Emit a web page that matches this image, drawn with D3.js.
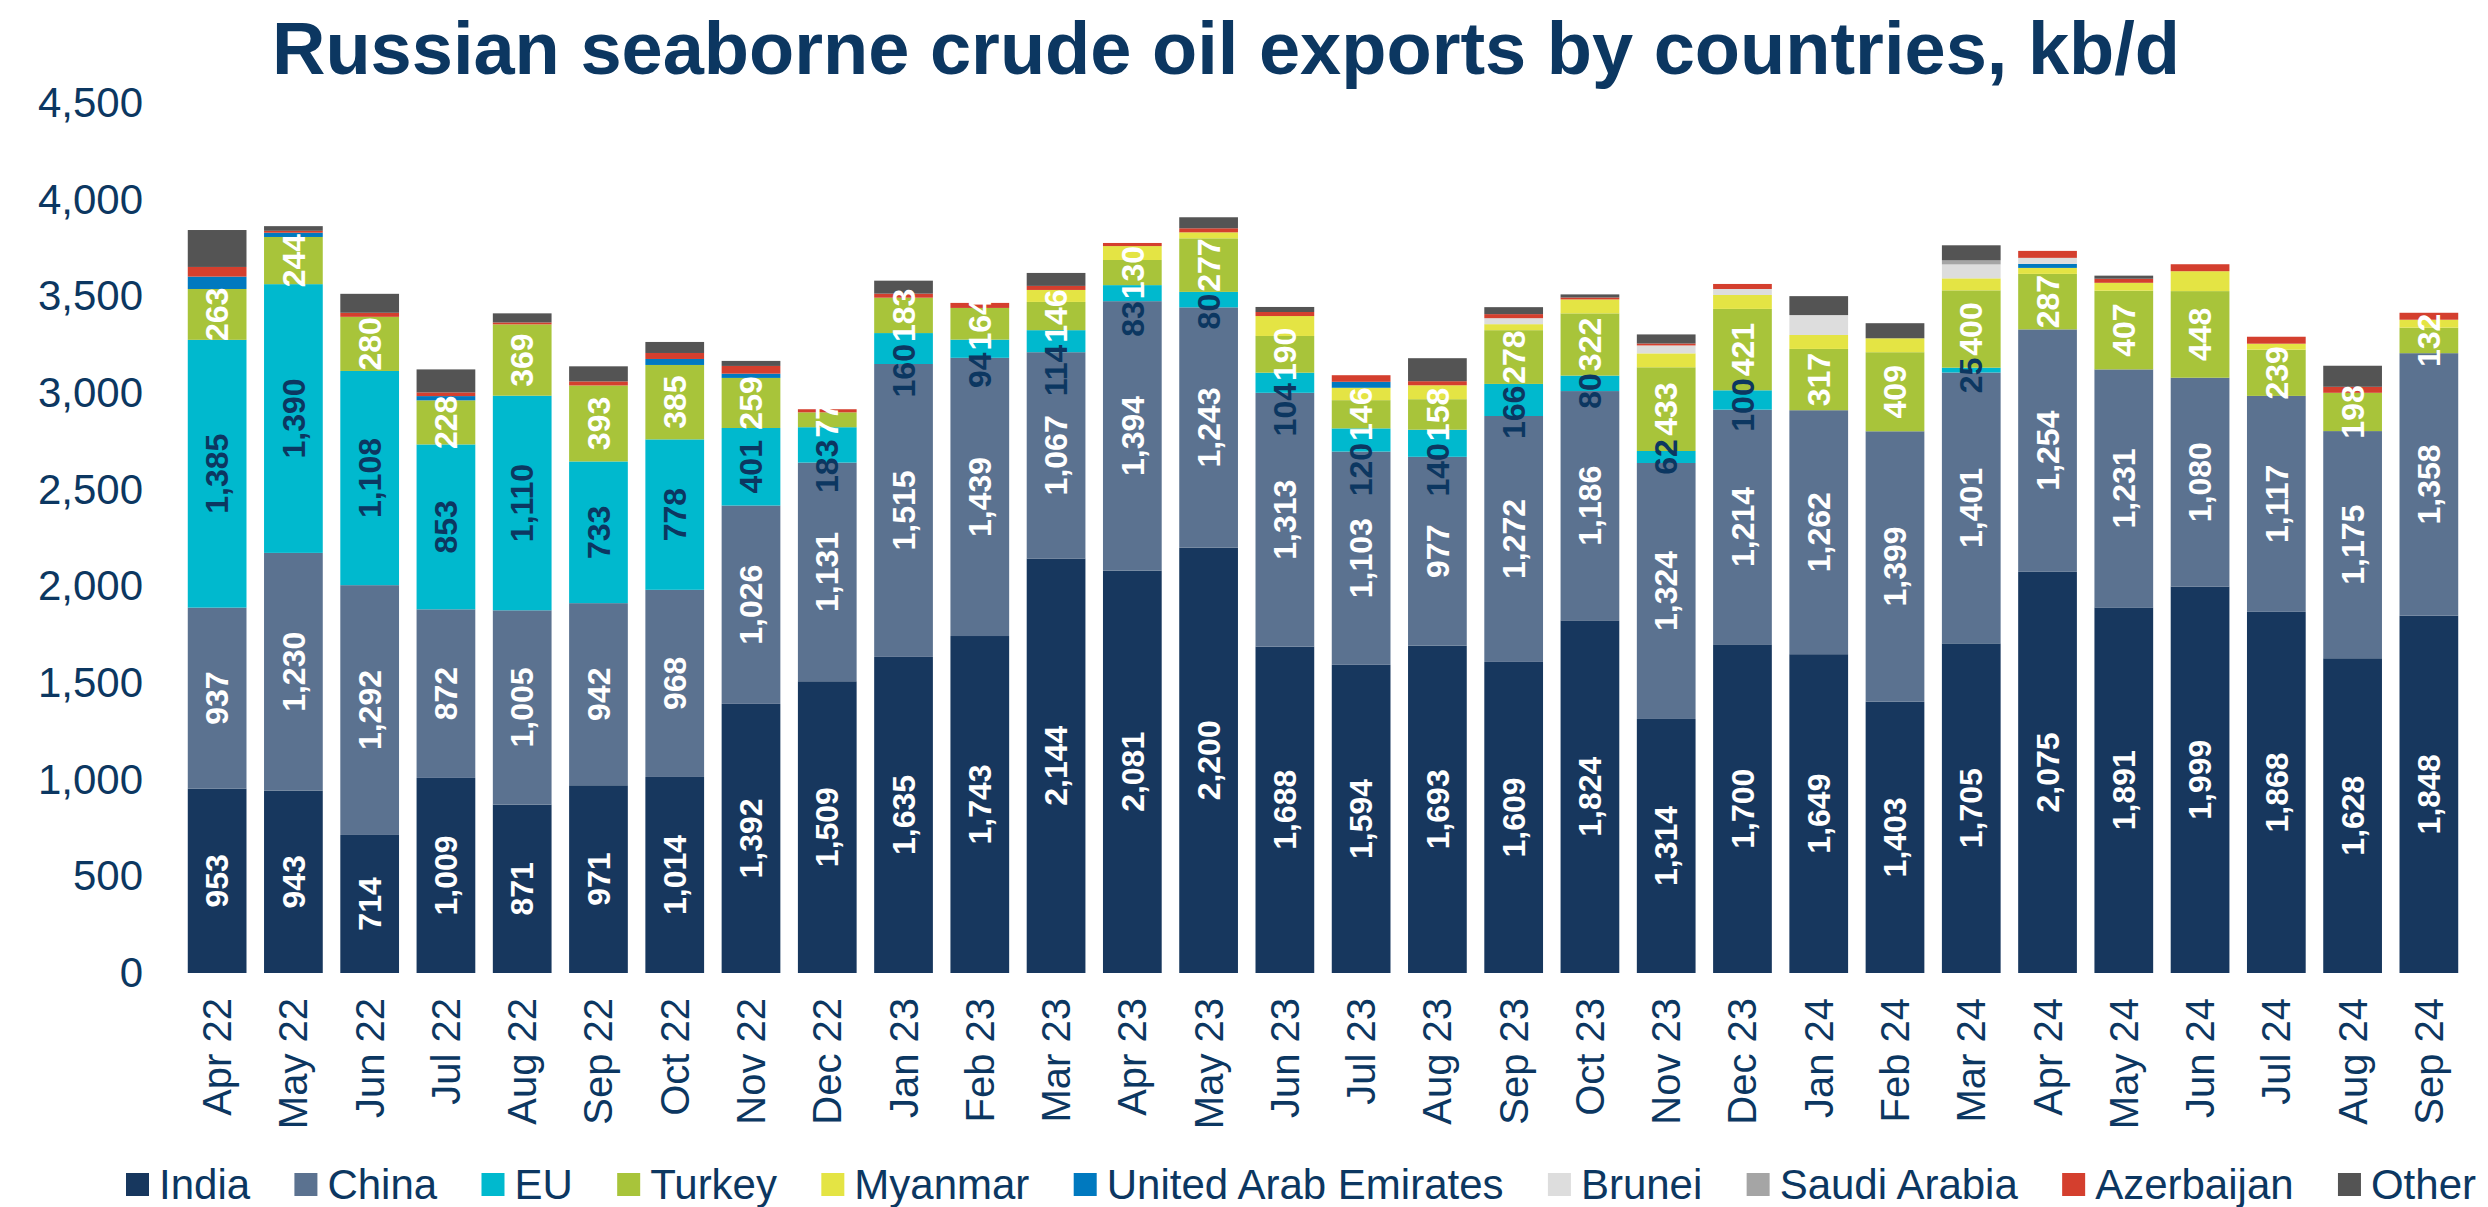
<!DOCTYPE html>
<html>
<head>
<meta charset="utf-8">
<script src="https://cdn.jsdelivr.net/npm/d3@7"></script>
<style>
  body { margin: 0; background: #fff; }
  svg { display: block; font-family: "Liberation Sans", Arial, sans-serif; }
</style>
</head>
<body>
<svg id="chart" width="2488" height="1207"></svg>
<script>
// months on the x axis
const months = ['Apr 22', 'May 22', 'Jun 22', 'Jul 22', 'Aug 22', 'Sep 22', 'Oct 22', 'Nov 22', 'Dec 22',
  'Jan 23', 'Feb 23', 'Mar 23', 'Apr 23', 'May 23', 'Jun 23', 'Jul 23', 'Aug 23', 'Sep 23', 'Oct 23', 'Nov 23', 'Dec 23',
  'Jan 24', 'Feb 24', 'Mar 24', 'Apr 24', 'May 24', 'Jun 24', 'Jul 24', 'Aug 24', 'Sep 24'];

// kb/d per destination
const india = [953, 943, 714, 1009, 871, 971, 1014, 1392, 1509, 1635, 1743, 2144, 2081, 2200, 1688, 1594, 1693, 1609, 1824, 1314, 1700, 1649, 1403, 1705, 2075, 1891, 1999, 1868, 1628, 1848];
const china = [937, 1230, 1292, 872, 1005, 942, 968, 1026, 1131, 1515, 1439, 1067, 1394, 1243, 1313, 1103, 977, 1272, 1186, 1324, 1214, 1262, 1399, 1401, 1254, 1231, 1080, 1117, 1175, 1358];
const eu = [1385, 1390, 1108, 853, 1110, 733, 778, 401, 183, 160, 94, 114, 83, 80, 104, 120, 140, 166, 80, 62, 100, 0, 0, 25, 0, 0, 0, 0, 0, 0];
const turkey = [263, 244, 280, 228, 369, 393, 385, 259, 77, 183, 164, 146, 130, 277, 190, 146, 158, 278, 322, 433, 421, 317, 409, 400, 287, 407, 448, 239, 198, 132];
const myanmar = [0, 0, 0, 0, 0, 0, 0, 0, 0, 0, 0, 62, 72, 31, 103, 64, 72, 31, 72, 72, 72, 72, 72, 62, 31, 41, 103, 31, 0, 41];
const uae = [64, 22, 0, 22, 0, 0, 31, 22, 0, 0, 0, 0, 0, 0, 0, 31, 0, 0, 0, 0, 0, 0, 0, 0, 21, 0, 0, 0, 0, 0];
const brunei = [0, 0, 0, 0, 0, 0, 0, 0, 0, 0, 0, 0, 0, 0, 0, 0, 0, 31, 0, 41, 31, 103, 0, 72, 31, 0, 0, 0, 0, 0];
const saudi = [0, 0, 0, 0, 0, 0, 0, 0, 0, 0, 0, 0, 0, 0, 0, 0, 0, 0, 0, 0, 0, 0, 0, 21, 0, 0, 0, 0, 0, 0];
const azerbaijan = [50, 10, 21, 19, 10, 21, 31, 40, 16, 21, 26, 21, 16, 21, 21, 34, 21, 21, 10, 10, 26, 0, 0, 0, 36, 21, 36, 36, 31, 36];
const other = [191, 24, 98, 119, 47, 78, 57, 26, 0, 67, 0, 67, 0, 57, 26, 0, 119, 36, 16, 47, 0, 98, 78, 78, 0, 16, 0, 0, 109, 0];

const yTicks = [0, 500, 1000, 1500, 2000, 2500, 3000, 3500, 4000, 4500];

const series = [
  { key: 'India', values: india, color: '#17375e', label: '#ffffff' },
  { key: 'China', values: china, color: '#5b7290', label: '#ffffff' },
  { key: 'EU', values: eu, color: '#00b9ce', label: '#0c3761' },
  { key: 'Turkey', values: turkey, color: '#a8c43a', label: '#ffffff' },
  { key: 'Myanmar', values: myanmar, color: '#e4e444' },
  { key: 'United Arab Emirates', values: uae, color: '#0079bf' },
  { key: 'Brunei', values: brunei, color: '#dddddd' },
  { key: 'Saudi Arabia', values: saudi, color: '#a5a5a5' },
  { key: 'Azerbaijan', values: azerbaijan, color: '#d43f2e' },
  { key: 'Other', values: other, color: '#545454' }
];

const navy = '#0c3761';
const svg = d3.select('#chart');

// table for d3.stack
const rows = months.map((m, i) => {
  const r = { month: m };
  series.forEach(s => { r[s.key] = s.values[i]; });
  return r;
});
const stacked = d3.stack().keys(series.map(s => s.key))(rows);

const x = d3.scaleBand().domain(months).range([179, 2467]).paddingInner(0.23).paddingOuter(0.115);
const y = d3.scaleLinear().domain([0, 4500]).range([973, 103]);

// title
svg.append('text')
  .attr('x', 1226)
  .attr('y', 74)
  .attr('text-anchor', 'middle')
  .attr('font-size', 74)
  .attr('font-weight', 'bold')
  .attr('fill', navy)
  .text('Russian seaborne crude oil exports by countries, kb/d');

// y axis
const yAxis = svg.append('g')
  .attr('transform', 'translate(143,0)')
  .call(d3.axisLeft(y).tickValues(yTicks).tickFormat(d3.format(',')).tickSize(0).tickPadding(0));
yAxis.select('.domain').remove();
yAxis.selectAll('text')
  .attr('font-size', 42)
  .attr('font-family', '"Liberation Sans", Arial, sans-serif')
  .attr('fill', navy);

// x axis
const xAxis = svg.append('g')
  .attr('transform', 'translate(0,973)')
  .call(d3.axisBottom(x).tickSize(0).tickPadding(0));
xAxis.select('.domain').remove();
xAxis.selectAll('text')
  .attr('transform', 'rotate(-90)')
  .attr('text-anchor', 'end')
  .attr('x', -25)
  .attr('y', 0)
  .attr('dy', '0.35em')
  .attr('font-size', 40)
  .attr('font-family', '"Liberation Sans", Arial, sans-serif')
  .attr('fill', navy);

// bars
const layers = svg.append('g')
  .selectAll('g')
  .data(stacked)
  .join('g')
  .attr('fill', (d, i) => series[i].color);

layers.selectAll('rect')
  .data(d => d)
  .join('rect')
  .attr('x', d => x(d.data.month))
  .attr('width', x.bandwidth())
  .attr('y', d => y(d[1]))
  .attr('height', d => y(d[0]) - y(d[1]));

// value labels (first four series), rotated, pushed down when they collide
const labelG = svg.append('g');
months.forEach((m, i) => {
  const cx = x(m) + x.bandwidth() / 2;
  let prevBottom = null;
  // go from the top label down
  for (let k = 3; k >= 0; k--) {
    const v = series[k].values[i];
    if (!v) continue;
    const seg = stacked[k][i];
    let cy = (y(seg[0]) + y(seg[1])) / 2;
    const t = labelG.append('text')
      .attr('text-anchor', 'middle')
      .attr('dy', '0.35em')
      .attr('font-size', 32)
      .attr('font-weight', 'bold')
      .attr('fill', series[k].label)
      .text(d3.format(',')(v));
    const half = t.node().getComputedTextLength() * 0.5;
    if (prevBottom !== null && cy - half < prevBottom + 2) {
      cy = prevBottom + 2 + half;
    }
    prevBottom = cy + half;
    t.attr('transform', `translate(${cx},${cy}) rotate(-90)`);
  }
});

// legend, spread between x=126 and x=2476
const legend = svg.append('g').attr('transform', 'translate(0,1184)');
const items = legend.selectAll('g')
  .data(series)
  .join('g');
items.append('rect')
  .attr('width', 23)
  .attr('height', 23)
  .attr('y', -11)
  .attr('fill', d => d.color);
items.append('text')
  .attr('x', 33)
  .attr('y', 15)
  .attr('font-size', 42)
  .attr('fill', navy)
  .text(d => d.key);

const widths = [];
items.each(function () {
  widths.push(33 + d3.select(this).select('text').node().getComputedTextLength());
});
const gap = (2476 - 126 - d3.sum(widths)) / (widths.length - 1);
let lx = 126;
items.attr('transform', (d, i) => {
  const t = `translate(${lx},0)`;
  lx += widths[i] + gap;
  return t;
});
</script>
</body>
</html>
